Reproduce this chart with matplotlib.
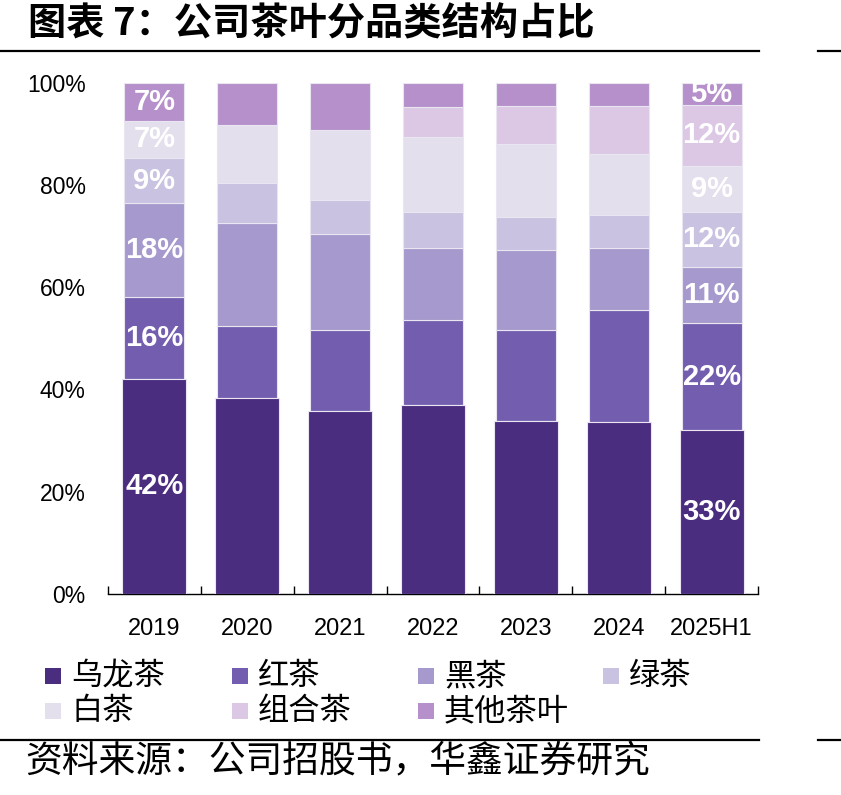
import numpy as np
import matplotlib
matplotlib.use('Agg')
from matplotlib import pyplot as plt
from matplotlib.patches import Rectangle
from matplotlib.lines import Line2D

years = ['2019', '2020', '2021', '2022', '2023', '2024', '2025H1']

oolong = [42.1, 38.4, 35.7, 36.9, 33.9, 33.7, 32.0]
red_tea = [16.0, 14.1, 15.9, 16.6, 17.7, 21.8, 21.0]
dark_tea = [18.3, 20.0, 18.8, 14.1, 15.6, 12.1, 10.9]
green_tea = [8.8, 7.8, 6.6, 7.1, 6.5, 6.6, 10.9]
white_tea = [7.4, 11.4, 13.8, 14.6, 14.4, 11.9, 9.0]
combo_tea = [0.0, 0.0, 0.0, 5.9, 7.3, 9.3, 11.8]
other_tea = [7.4, 8.3, 9.2, 4.8, 4.6, 4.6, 4.4]

series_names = ['乌龙茶', '红茶', '黑茶', '绿茶', '白茶', '组合茶', '其他茶叶']
series_colors = ['#4B2D80', '#735DAF', '#A699CD', '#C9C2E1', '#E4DFEC', '#DCC8E5', '#B690CA']

# labels printed on the first and last bar
bar_labels = {
    0: ['42%', '16%', '18%', '9%', '7%', '', '7%'],
    6: ['33%', '22%', '11%', '12%', '9%', '12%', '5%'],
}

CJK = ['Noto Sans CJK SC', 'DejaVu Sans']
NUM = ['Liberation Sans', 'DejaVu Sans']

W, H = 841, 795
fig = plt.figure(figsize=(W / 100, H / 100), dpi=100)
ax = fig.add_axes([108 / W, 1 - 594 / H, 650 / W, (594 - 82.7) / H])

series = [oolong, red_tea, dark_tea, green_tea, white_tea, combo_tea, other_tea]
x = np.arange(len(years))
bottom = np.zeros(len(years))
for i, (vals, color) in enumerate(zip(series, series_colors)):
    vals = np.array(vals)
    mask = vals > 0
    width = 0.69 if i == 0 else 0.645
    ax.bar(x[mask], vals[mask], bottom=bottom[mask], width=width, color=color,
           edgecolor='#E9E5F1', linewidth=0.8, zorder=2 if i else 3)
    for xi, texts in bar_labels.items():
        if texts[i]:
            ax.text(xi, bottom[xi] + vals[xi] / 2, texts[i], ha='center', va='center',
                    color='white', fontsize=21, fontweight='bold', family=NUM, zorder=5)
    bottom += vals

ax.set_xlim(-0.5, len(years) - 0.5)
ax.set_ylim(0, 100)
for side in ['top', 'right', 'left']:
    ax.spines[side].set_visible(False)
ax.spines['bottom'].set_linewidth(1.0)

ax.set_yticks(np.arange(0, 101, 20))
ax.set_yticklabels([f'{v}%' for v in range(0, 101, 20)], family=NUM, fontsize=16.5)
ax.tick_params(axis='y', length=0, pad=16)

ax.set_xticks(x)
ax.set_xticklabels(years, family=NUM, fontsize=17)
ax.set_xticks(np.arange(-0.5, len(years), 1), minor=True)
ax.tick_params(axis='x', which='major', length=0, pad=17)
ax.tick_params(axis='x', which='minor', length=6, width=1, direction='in')

# title and rules
fig.text(28 / W, 1 - 24 / H, '图表 7：公司茶叶分品类结构占比', family=CJK, fontsize=27.5,
         fontweight='bold', va='center', ha='left')
for y in (51, 740):
    fig.add_artist(Line2D([0, 759 / W], [1 - y / H] * 2, color='black', lw=1.6))
    fig.add_artist(Line2D([818 / W, 1], [1 - y / H] * 2, color='black', lw=1.6))

# legend grid, 4 columns
col_x = [45, 232, 418, 603]
row_y = [676, 711]
for i, (name, color) in enumerate(zip(series_names, series_colors)):
    cx = col_x[i % 4]
    cy = row_y[i // 4]
    fig.add_artist(Rectangle((cx / W, 1 - (cy + 8) / H), 16 / W, 16 / H,
                             facecolor=color, edgecolor='none', transform=fig.transFigure))
    fig.text((cx + 26) / W, 1 - cy / H, name, family=CJK, fontsize=22.5, va='center', ha='left')

fig.text(25 / W, 1 - 761 / H, '资料来源：公司招股书，华鑫证券研究', family=CJK, fontsize=26.5,
         va='center', ha='left')

fig.savefig('out.png', dpi=100)
